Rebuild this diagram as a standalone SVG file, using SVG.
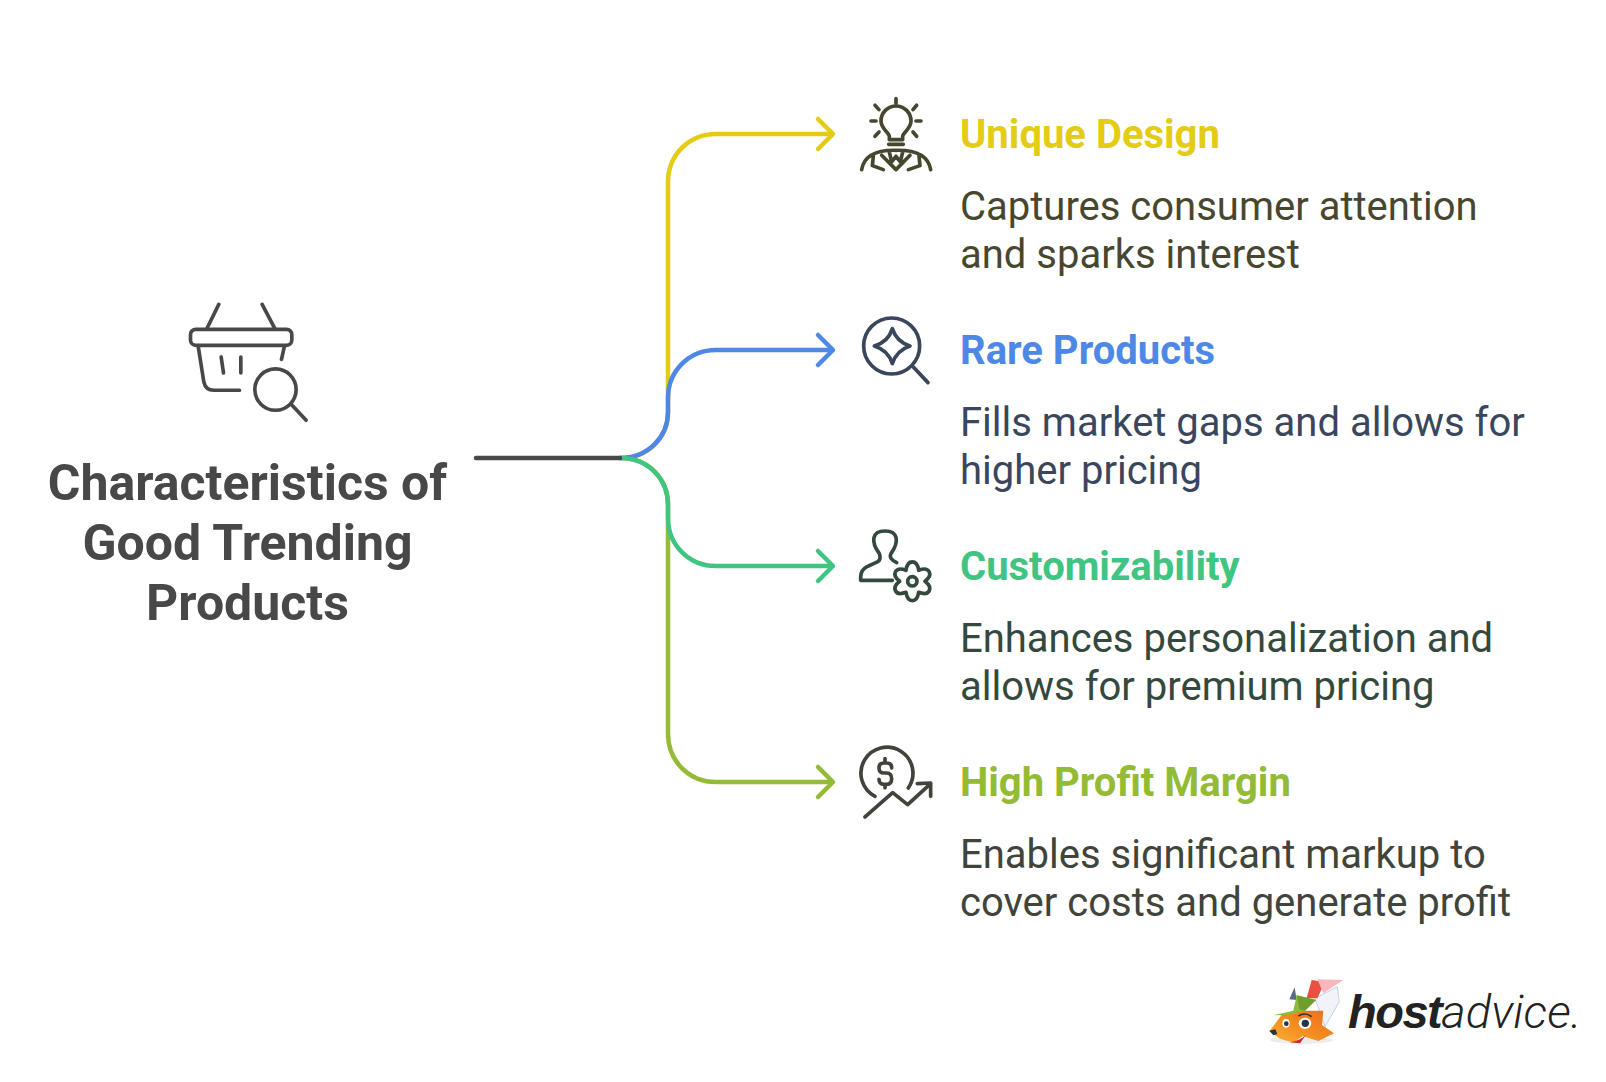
<svg xmlns="http://www.w3.org/2000/svg" width="1606" height="1082" viewBox="0 0 1606 1082">
<defs>
<style>
text{font-family:Roboto,"Liberation Sans",sans-serif}
.title{font-size:50px;font-weight:700;fill:#484848;text-anchor:middle}
.h{font-size:40px;font-weight:700}
.b{font-size:40px;font-weight:400}
.c{fill:none;stroke-width:4.5;stroke-linecap:round;stroke-linejoin:round}
.i{fill:none;stroke-width:11;stroke-linecap:round;stroke-linejoin:round}
</style>
<linearGradient id="fur" x1="0" y1="1" x2="1" y2="0"><stop offset="0" stop-color="#f9b233"/><stop offset=".5" stop-color="#f58a1f"/><stop offset="1" stop-color="#ef6a1a"/></linearGradient>
</defs>
<rect width="1606" height="1082" fill="#fff"/>
<g id="connectors">
<path class="c" stroke="#e3cc13" d="M620 458C650 458 668 436 668 412V182C668 155 689 134 716 134H832"/>
<path class="c" stroke="#94bb35" d="M620 458C650 458 668 480 668 505V734C668 761 689 782 716 782H832"/>
<path class="c" stroke="#4e88e7" d="M620 458C648 458 668 437 668 412V398C668 371 689 350 716 350H832"/>
<path class="c" stroke="#3fc581" d="M620 458C648 458 668 479 668 505V518C668 545 689 566 716 566H832"/>
<path class="c" stroke="#484848" d="M476 458H620"/>
<path class="c" stroke="#e3cc13" d="M818 119L833 134L818 149"/>
<path class="c" stroke="#4e88e7" d="M818 335L833 350L818 365"/>
<path class="c" stroke="#3fc581" d="M818 551L833 566L818 581"/>
<path class="c" stroke="#94bb35" d="M818 767L833 782L818 797"/>
</g>
<g id="root">
<g transform="translate(150.500 280.300) scale(.3333)" class="i" stroke="#484848">
<path d="M205 72L170 143M335 72L372 143"/>
<rect x="120" y="147" width="304" height="48" rx="16"/>
<path d="M143 197L160 305Q165 330 190 330H267M402 197L393 237M212 230L219 278M271 230V278"/>
<circle cx="375" cy="328" r="62"/>
<path d="M422 372L467 420"/>
</g>
<text class="title" x="247.500" y="500">Characteristics of</text>
<text class="title" x="247.500" y="560">Good Trending</text>
<text class="title" x="247.500" y="620">Products</text>
</g>
<g id="unique-design">
<g transform="translate(840 80.300) scale(.3333)" class="i" stroke="#47472f">
<path d="M148 178V168C148 158 123 145 123 122A45 45 0 0 1 213 122C213 145 188 158 188 168V178ZM146 192H190M168 55V70M105 75L117 88M230 75L219 88M93 122H108M228 122H243M105 168L117 155M230 168L219 155"/>
<path d="M65 268Q75 208 168 210Q262 208 272 268M100 228L97 256L130 268M205 268L240 256L237 228M125 225L168 268L210 225M148 215L155 245L168 228L181 245L188 215"/>
</g>
<text class="h" x="960" y="148" fill="#e3cc13">Unique Design</text>
<text class="b" x="960" y="220" fill="#47472f">Captures consumer attention</text>
<text class="b" x="960" y="268" fill="#47472f">and sparks interest</text>
</g>
<g id="rare-products">
<g transform="translate(840 300.300) scale(.3333)" class="i" stroke="#3a465c">
<circle cx="155" cy="137" r="84"/>
<path d="M220 200L264 247M157 85Q170 125 210 137Q170 150 157 190Q145 150 103 137Q145 125 157 85Z"/>
</g>
<text class="h" x="960" y="364" fill="#4e88e7">Rare Products</text>
<text class="b" x="960" y="436" fill="#3a465c">Fills market gaps and allows for</text>
<text class="b" x="960" y="484" fill="#3a465c">higher pricing</text>
</g>
<g id="customizability">
<g transform="translate(840 515.300) scale(.3333)" class="i" stroke="#34483e">
<path d="M157 195H62V185Q62 165 80 155L112 140Q125 133 118 115C92 80 95 47 135 47C175 47 178 80 153 115Q145 130 170 142"/>
<circle cx="217" cy="198" r="14"/>
<path d="M198 165C202.900 131.500 231.100 131.500 236 165C267.500 152.500 281.700 177 255 198C281.700 219 267.500 243.500 236 231C231.100 264.500 202.900 264.500 198 231C166.500 243.500 152.300 219 179 198C152.300 177 166.500 152.500 198 165Z"/>
</g>
<text class="h" x="960" y="580" fill="#3fc581">Customizability</text>
<text class="b" x="960" y="652" fill="#34483e">Enhances personalization and</text>
<text class="b" x="960" y="700" fill="#34483e">allows for premium pricing</text>
</g>
<g id="high-profit-margin">
<g transform="translate(840 735.300) scale(.3333)" class="i" stroke="#40443a">
<path d="M105 183A78 78 0 1 1 205 158M155 98Q155 83 140 83H132Q117 83 117 98Q117 113 132 113H140Q155 113 155 130Q155 147 140 147H132Q117 147 117 132M135 70V83M135 147V157M75 245L158 172L203 208L272 145M232 145L272 143V183"/>
</g>
<text class="h" x="960" y="796" fill="#94bb35">High Profit Margin</text>
<text class="b" x="960" y="868" fill="#40443a">Enables significant markup to</text>
<text class="b" x="960" y="916" fill="#40443a">cover costs and generate profit</text>
</g>
<g id="logo">
<g transform="translate(1260 970) scale(.3333)">
<ellipse cx="125" cy="210" rx="95" ry="11" fill="#ececec"/>
<path d="M165 85L232 50L238 95L195 170Z" fill="#f1f3f8" stroke="#c3cfe2" stroke-width="3"/>
<path d="M88 88L104 52L110 90Z" fill="#5b6b86"/>
<path d="M140 85L155 30L195 36L172 85Z" fill="#e8503f"/>
<path d="M172 28L250 30L190 70Z" fill="#f7b7bd"/>
<path d="M28 184L65 135L110 122L190 122L186 165L222 190L175 213L130 200L100 218L60 206Z" fill="url(#fur)"/>
<path d="M128 198L172 213L150 220L100 218Z" fill="#ececec"/>
<path d="M90 217Q120 212 137 196L120 220Z" fill="#d8262c"/>
<path d="M28 182L46 178L52 192L40 196Z" fill="#2c3140"/>
<path d="M40 136L100 122L110 76L168 90L135 122L80 135Z" fill="#8dbb3c"/>
<path d="M110 76L168 90L135 122L118 118Z" fill="#6f9e2c"/>
<ellipse cx="78" cy="160" rx="11" ry="13" fill="#fff"/>
<circle cx="79" cy="161" r="7" fill="#2c3140"/>
<ellipse cx="135" cy="160" rx="19" ry="17" fill="#fff"/>
<circle cx="136" cy="160" r="11" fill="#2c3140"/>
<path d="M115 138Q135 125 155 140" fill="none" stroke="#2c3140" stroke-width="5"/>
</g>
<text x="1348" y="1028" font-size="47" font-weight="700" font-style="italic" fill="#222" letter-spacing="-1.500" style="font-family:'Liberation Sans',sans-serif">host<tspan font-weight="300" style="font-family:Roboto,sans-serif" letter-spacing=".1">advice.</tspan></text>
</g>
</svg>
